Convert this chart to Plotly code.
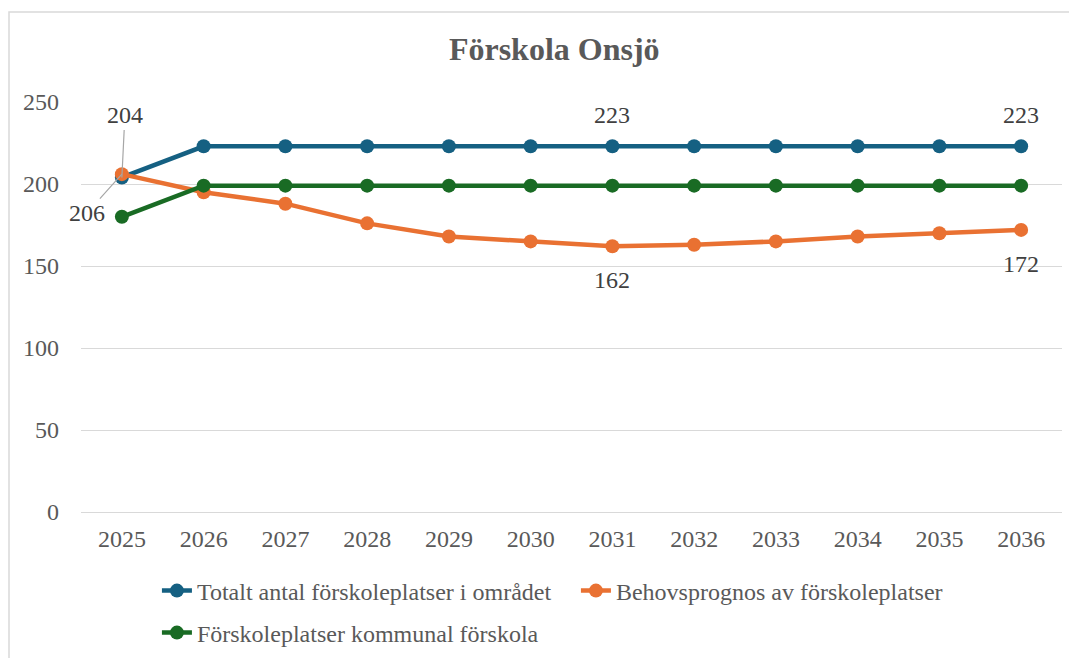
import plotly.graph_objects as go

years = ["2025", "2026", "2027", "2028", "2029", "2030", "2031", "2032", "2033", "2034", "2035", "2036"]
totalt = [204, 223, 223, 223, 223, 223, 223, 223, 223, 223, 223, 223]
behov = [206, 195, 188, 176, 168, 165, 162, 163, 165, 168, 170, 172]
kommunal = [180, 199, 199, 199, 199, 199, 199, 199, 199, 199, 199, 199]

names = ["Totalt antal förskoleplatser i området",
         "Behovsprognos av förskoleplatser",
         "Förskoleplatser kommunal förskola"]
colors = ["#156082", "#E97132", "#196B24"]
series = [totalt, behov, kommunal]
legends = ["legend", "legend", "legend2"]

FONT = "Liberation Serif"

fig = go.Figure()
for nm, col, vals, lg in zip(names, colors, series, legends):
    fig.add_trace(go.Scatter(
        x=years, y=vals, name=nm, mode="lines+markers",
        line=dict(color=col, width=4.5),
        marker=dict(color=col, size=14),
        hoverinfo="skip", legend=lg,
    ))

lab_font = dict(family=FONT, size=24, color="#404040")
ann = []
# leader-line labels at 2025 (category index 0)
ann.append(dict(x=0, y=totalt[0], text=str(totalt[0]), showarrow=True,
                arrowhead=0, arrowwidth=1.2, arrowcolor="#a6a6a6", ax=3, ay=-62,
                font=lab_font))
ann.append(dict(x=0, y=behov[0], text=str(behov[0]), showarrow=True,
                arrowhead=0, arrowwidth=1.2, arrowcolor="#a6a6a6", ax=-35, ay=39,
                font=lab_font))
for i in (6, 11):
    ann.append(dict(x=i, y=totalt[i], text=str(totalt[i]), showarrow=False,
                    yshift=31, font=lab_font))
    ann.append(dict(x=i, y=behov[i], text=str(behov[i]), showarrow=False,
                    yshift=-34, font=lab_font))

leg_common = dict(orientation="h", xanchor="left", yanchor="middle",
                  font=dict(family=FONT, size=24, color="#595959"),
                  bgcolor="rgba(0,0,0,0)", itemclick=False, itemdoubleclick=False)

fig.update_layout(
    width=1069, height=650,
    margin=dict(l=73, r=15, t=94, b=146, autoexpand=False),
    paper_bgcolor="white", plot_bgcolor="white",
    font=dict(family=FONT, size=24, color="#595959"),
    title=dict(text="<b>Förskola Onsjö</b>", x=0.511, xanchor="center",
               y=0.937, yanchor="middle",
               font=dict(family=FONT, size=32, color="#595959")),
    showlegend=True,
    legend=dict(x=0.0774, y=-0.1927, entrywidth=374, **leg_common),
    legend2=dict(x=0.0774, y=-0.2951, **leg_common),
    annotations=ann,
    shapes=[dict(type="rect", xref="paper", yref="paper",
                 x0=-0.0734, x1=1.05, y0=-0.40, y1=1.2195,
                 line=dict(color="#d9d9d9", width=1.5), layer="below")],
)
fig.update_xaxes(type="category", range=[-0.5, 11.5], showgrid=False, showline=True,
                 linecolor="#d9d9d9", linewidth=1, ticks="", ticklabelstandoff=5,
                 tickfont=dict(family=FONT, size=24, color="#595959"))
fig.update_yaxes(range=[0, 250], tick0=0, dtick=50, showgrid=True, gridcolor="#d9d9d9",
                 gridwidth=1, zeroline=False, showline=False, ticks="",
                 ticklabelstandoff=21,
                 tickfont=dict(family=FONT, size=24, color="#595959"))

fig.write_html("out.html")
